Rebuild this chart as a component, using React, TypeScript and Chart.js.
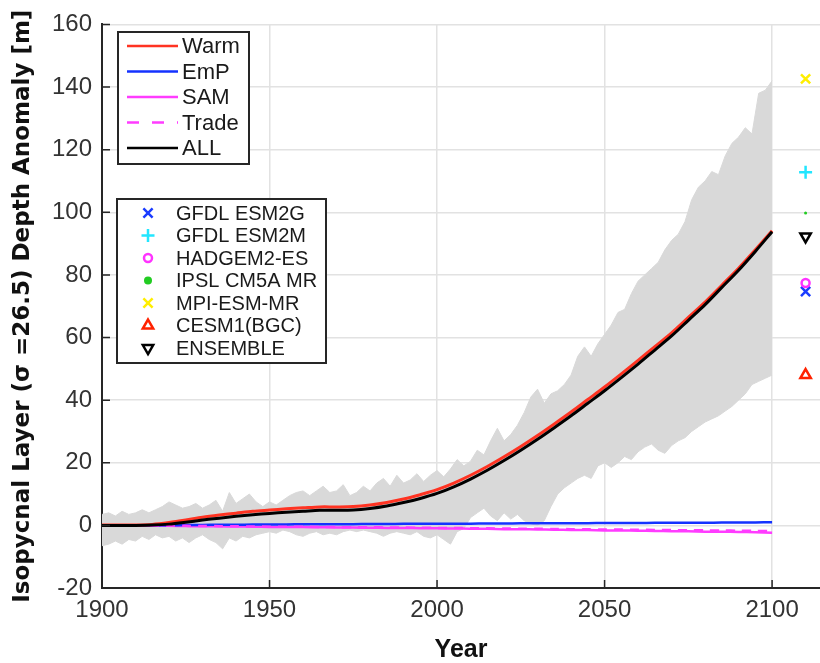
import React, { useEffect, useRef } from 'react';
import { Chart, registerables } from 'chart.js';

Chart.register(...registerables);

// ---------- data ----------
const lineYears = [1900, 1905, 1910, 1915, 1920, 1925, 1930, 1935, 1940, 1945, 1950, 1955, 1960, 1965, 1970, 1975, 1980, 1985, 1990, 1995, 2000, 2005, 2010, 2015, 2020, 2025, 2030, 2035, 2040, 2045, 2050, 2055, 2060, 2065, 2070, 2075, 2080, 2085, 2090, 2095, 2100];
const warm = [0.1, 0.1, 0.1, 0.3, 0.9, 1.7, 2.6, 3.3, 3.9, 4.5, 4.9, 5.3, 5.6, 5.9, 5.9, 6.0, 6.5, 7.3, 8.4, 9.8, 11.4, 13.5, 16.0, 18.8, 21.9, 25.2, 28.7, 32.4, 36.2, 40.2, 44.2, 48.4, 52.7, 57.1, 61.5, 66.4, 71.3, 76.7, 82.1, 88.0, 94.1];
const emp = [0, 0, 0, 0.05, 0.05, 0.1, 0.15, 0.2, 0.2, 0.25, 0.3, 0.3, 0.35, 0.35, 0.4, 0.4, 0.45, 0.45, 0.5, 0.5, 0.5, 0.55, 0.55, 0.6, 0.6, 0.65, 0.65, 0.7, 0.7, 0.7, 0.75, 0.75, 0.75, 0.8, 0.8, 0.85, 0.85, 0.9, 0.9, 0.95, 1.0];
const sam = [0, 0, -0.05, -0.1, -0.15, -0.2, -0.3, -0.3, -0.35, -0.4, -0.5, -0.5, -0.55, -0.6, -0.65, -0.7, -0.75, -0.8, -0.85, -0.9, -0.95, -1.0, -1.05, -1.1, -1.2, -1.25, -1.3, -1.4, -1.45, -1.5, -1.6, -1.65, -1.7, -1.8, -1.85, -1.9, -2.0, -2.05, -2.1, -2.2, -2.35];
const trade = [0, 0, 0, -0.05, -0.1, -0.15, -0.2, -0.25, -0.3, -0.35, -0.4, -0.4, -0.45, -0.5, -0.55, -0.6, -0.6, -0.65, -0.7, -0.75, -0.8, -0.85, -0.9, -0.95, -1.0, -1.05, -1.1, -1.15, -1.2, -1.25, -1.3, -1.35, -1.4, -1.45, -1.5, -1.55, -1.6, -1.65, -1.7, -1.75, -1.85];
const all = [0, 0, 0, 0.1, 0.4, 1.0, 1.7, 2.3, 2.9, 3.4, 3.8, 4.2, 4.5, 4.8, 4.8, 4.9, 5.4, 6.2, 7.3, 8.6, 10.2, 12.3, 14.8, 17.6, 20.7, 24.0, 27.5, 31.2, 35.0, 39.0, 43.0, 47.2, 51.5, 56.0, 60.5, 65.5, 70.5, 76.0, 81.5, 87.5, 93.8];

const bandYears = [1900, 1902, 1904, 1906, 1908, 1910, 1912, 1914, 1916, 1918, 1920, 1922, 1924, 1926, 1928, 1930, 1932, 1934, 1936, 1938, 1940, 1942, 1944, 1946, 1948, 1950, 1952, 1954, 1956, 1958, 1960, 1962, 1964, 1966, 1968, 1970, 1972, 1974, 1976, 1978, 1980, 1982, 1984, 1986, 1988, 1990, 1992, 1994, 1996, 1998, 2000, 2002, 2004, 2006, 2008, 2010, 2012, 2014, 2016, 2018, 2020, 2022, 2024, 2026, 2028, 2030, 2032, 2034, 2036, 2038, 2040, 2042, 2044, 2046, 2048, 2050, 2052, 2054, 2056, 2058, 2060, 2062, 2064, 2066, 2068, 2070, 2072, 2074, 2076, 2078, 2080, 2082, 2084, 2086, 2088, 2090, 2092, 2094, 2096, 2098, 2100];
const bandUpper = [3.5, 4, 3, 4.5, 3.5, 4, 5, 4, 5, 6,
  7.5, 6.5, 5.5, 6, 7, 5.5, 6.5, 8, 4.5, 10.5,
  7, 8.5, 10, 7.5, 6, 7.5, 6.5, 8, 9.5, 10.5,
  11, 9.5, 11, 12.5, 10.5, 11, 13, 9.5, 10.5, 12.5,
  11, 13.5, 15, 12.5, 16, 13.5, 14.5, 16.5, 14, 16,
  17.5, 15.5, 18, 21, 19, 20.5, 24, 22.5, 27, 31,
  27, 29, 32, 36, 41, 43.5, 39, 42, 43, 45,
  48, 54, 57, 54, 58, 61, 64, 68, 69, 74,
  78, 80, 82, 84, 88, 91, 93, 97, 104, 108,
  110, 113, 112, 118, 122, 124, 127, 125, 138, 139,
  142];
const bandLower = [-6.5, -6, -5, -6, -4.5, -5, -3.5, -4.5, -3, -4,
  -3.5, -5, -4, -5.5, -4, -3, -4.5, -5.5, -7.5, -4,
  -5, -3.5, -4, -3, -2.5, -2, -2.5, -1.5, -2, -3,
  -3.5, -2.5, -2, -3, -2.5, -3, -2, -1.5, -2, -1.5,
  -2, -2.5, -3.5, -2.5, -2, -2.5, -3, -2, -3.5, -4,
  -3, -4.5, -6, -2, -1, 2.5, 4, 5.5, 3, 1.5,
  4, 2, 3.5, 1.5, 0.5, 0, 1.5, 6, 10, 12,
  13.5, 15, 16, 15, 19, 20, 18.5, 20, 22, 21,
  23.5, 25, 26, 24, 23, 25.5, 27, 28, 30, 31.5,
  33, 34, 35, 36.5, 38, 40, 42, 45, 46, 47,
  48];

const modelNames = ['GFDL ESM2G', 'GFDL ESM2M', 'HADGEM2-ES', 'IPSL CM5A MR', 'MPI-ESM-MR', 'CESM1(BGC)', 'ENSEMBLE'];
const modelValues = [74.7, 112.8, 77.4, 99.8, 142.6, 48.0, 92.3];
const modelYear = 2110;

const xTicks = [1900, 1950, 2000, 2050, 2100];
const yTicks = [-20, 0, 20, 40, 60, 80, 100, 120, 140, 160];

// ---------- styles ----------
const lineSeries = [
  { label: 'Warm', data: warm, color: '#ff3322', dash: false },
  { label: 'EmP', data: emp, color: '#1432ff', dash: false },
  { label: 'SAM', data: sam, color: '#ff3cff', dash: false },
  { label: 'Trade', data: trade, color: '#ff3cff', dash: true },
  { label: 'ALL', data: all, color: '#000000', dash: false },
];
const modelStyles = [
  { shape: 'crossRot', color: '#1a3cff', r: 6.5, plotR: 6.5 },
  { shape: 'cross', color: '#22e6ff', r: 6.5, plotR: 6.5 },
  { shape: 'circle', color: '#ff33ff', r: 4, plotR: 4 },
  { shape: 'dot', color: '#22cc22', r: 4, plotR: 1.5 },
  { shape: 'crossRot', color: '#ffee00', r: 6.5, plotR: 6.5 },
  { shape: 'triangle', color: '#ff2200', r: 6, plotR: 6 },
  { shape: 'triangleDown', color: '#000000', r: 6, plotR: 6 },
];

function drawMarker(ctx: CanvasRenderingContext2D, shape: string, color: string, x: number, y: number, r: number) {
  ctx.save();
  ctx.strokeStyle = color;
  ctx.fillStyle = color;
  ctx.lineWidth = 2.5;
  ctx.setLineDash([]);
  ctx.beginPath();
  if (shape === 'crossRot') {
    const d = r * Math.SQRT1_2;
    ctx.moveTo(x - d, y - d); ctx.lineTo(x + d, y + d);
    ctx.moveTo(x - d, y + d); ctx.lineTo(x + d, y - d);
    ctx.stroke();
  } else if (shape === 'cross') {
    ctx.moveTo(x - r, y); ctx.lineTo(x + r, y);
    ctx.moveTo(x, y - r); ctx.lineTo(x, y + r);
    ctx.stroke();
  } else if (shape === 'circle') {
    ctx.arc(x, y, r, 0, Math.PI * 2);
    ctx.stroke();
  } else if (shape === 'dot') {
    ctx.arc(x, y, r, 0, Math.PI * 2);
    ctx.fill();
  } else if (shape === 'triangle' || shape === 'triangleDown') {
    const s = shape === 'triangle' ? 1 : -1;
    ctx.moveTo(x, y - s * r);
    ctx.lineTo(x + r * 0.866, y + s * r * 0.5);
    ctx.lineTo(x - r * 0.866, y + s * r * 0.5);
    ctx.closePath();
    ctx.stroke();
  }
  ctx.restore();
}

const inwardTicks = {
  id: 'inwardTicks',
  afterDatasetsDraw(chart: any) {
    const { ctx, chartArea, scales } = chart;
    ctx.save();
    ctx.strokeStyle = '#262626';
    ctx.lineWidth = 1.5;
    ctx.beginPath();
    yTicks.forEach((v) => {
      const y = scales.y.getPixelForValue(v);
      ctx.moveTo(chartArea.left, y); ctx.lineTo(chartArea.left + 8, y);
    });
    xTicks.forEach((v) => {
      const x = scales.x.getPixelForValue(v);
      ctx.moveTo(x, chartArea.bottom); ctx.lineTo(x, chartArea.bottom - 8);
    });
    ctx.stroke();
    ctx.restore();
  },
};

const modelMarkers = {
  id: 'modelMarkers',
  afterDatasetsDraw(chart: any) {
    const { ctx, scales } = chart;
    modelValues.forEach((v, i) => {
      const st = modelStyles[i];
      drawMarker(ctx, st.shape, st.color, scales.x.getPixelForValue(modelYear), scales.y.getPixelForValue(v), st.plotR);
    });
  },
};

const legends = {
  id: 'legends',
  afterDraw(chart: any) {
    const { ctx, chartArea } = chart;
    const L = chartArea.left;
    ctx.save();
    // legend 1
    const b1x = L + 16, b1y = 32, b1w = 131, b1h = 132;
    ctx.fillStyle = '#ffffff';
    ctx.fillRect(b1x, b1y, b1w, b1h);
    ctx.strokeStyle = '#262626';
    ctx.lineWidth = 2;
    ctx.strokeRect(b1x, b1y, b1w, b1h);
    ctx.font = '22px "Liberation Sans", Arial, sans-serif';
    ctx.textBaseline = 'middle';
    lineSeries.forEach((s, i) => {
      const y = 46 + i * 25.5;
      ctx.beginPath();
      ctx.setLineDash(s.dash ? [12, 13] : []);
      ctx.strokeStyle = s.color;
      ctx.lineWidth = 2.5;
      ctx.moveTo(L + 25, y); ctx.lineTo(L + 76, y);
      ctx.stroke();
      ctx.setLineDash([]);
      ctx.fillStyle = '#1a1a1a';
      ctx.fillText(s.label, L + 80, y + 1);
    });
    // legend 2
    const b2x = L + 15, b2y = 199, b2w = 209, b2h = 164;
    ctx.fillStyle = '#ffffff';
    ctx.fillRect(b2x, b2y, b2w, b2h);
    ctx.strokeStyle = '#262626';
    ctx.lineWidth = 2;
    ctx.strokeRect(b2x, b2y, b2w, b2h);
    ctx.font = '20px "Liberation Sans", Arial, sans-serif';
    modelNames.forEach((n, i) => {
      const y = 213 + i * 22.5;
      const st = modelStyles[i];
      drawMarker(ctx, st.shape, st.color, L + 46, y, st.r);
      ctx.fillStyle = '#1a1a1a';
      ctx.fillText(n, L + 74, y + 1);
    });
    ctx.restore();
  },
};

export default function App() {
  const ref = useRef<HTMLCanvasElement>(null);
  useEffect(() => {
    const datasets: any[] = [
      {
        label: 'range upper',
        data: bandYears.map((x, i) => ({ x, y: bandUpper[i] })),
        fill: '+1',
        backgroundColor: '#d9d9d9',
        borderColor: '#d9d9d9',
        borderWidth: 1,
        pointRadius: 0,
        tension: 0,
        order: 20,
      },
      {
        label: 'range lower',
        data: bandYears.map((x, i) => ({ x, y: bandLower[i] })),
        fill: false,
        borderColor: '#d9d9d9',
        borderWidth: 1,
        pointRadius: 0,
        tension: 0,
        order: 19,
      },
    ];
    const orders = [5, 8, 9, 7, 4];
    lineSeries.forEach((s, i) => {
      datasets.push({
        label: s.label,
        data: lineYears.map((x, j) => ({ x, y: s.data[j] })),
        borderColor: s.color,
        borderWidth: s.label === 'ALL' || s.label === 'Warm' ? 3 : 2.5,
        borderDash: s.dash ? [9, 7] : [],
        pointRadius: 0,
        fill: false,
        tension: 0.3,
        order: orders[i],
      });
    });

    const chart = new Chart(ref.current as HTMLCanvasElement, {
      type: 'line',
      data: { datasets },
      plugins: [inwardTicks, modelMarkers, legends],
      options: {
        animation: false,
        responsive: false,
        devicePixelRatio: 1,
        layout: { padding: { top: 15.5, right: 0, bottom: 0, left: 0 } },
        plugins: {
          legend: { display: false },
          tooltip: { enabled: false },
        },
        scales: {
          x: {
            type: 'linear',
            min: 1900,
            max: 2114.3,
            afterBuildTicks: (s: any) => { s.ticks = xTicks.map((v) => ({ value: v })); },
            afterFit: (s: any) => { s.height = 75; },
            ticks: {
              font: { family: '"Liberation Sans", Arial, sans-serif', size: 24 },
              color: '#333333',
              padding: 8,
              maxRotation: 0,
              autoSkip: false,
              callback: (v: any) => String(v),
            },
            grid: { color: '#e2e2e2', lineWidth: 1.5, drawTicks: false },
            border: { color: '#262626', width: 2 },
            title: {
              display: true,
              text: 'Year',
              font: { family: '"Liberation Sans", Arial, sans-serif', size: 25, weight: 'bold', lineHeight: 1 },
              color: '#111111',
              padding: { top: 0, bottom: 0 },
            },
          },
          y: {
            type: 'linear',
            min: -20,
            max: 160,
            afterBuildTicks: (s: any) => { s.ticks = yTicks.map((v) => ({ value: v })); },
            afterFit: (s: any) => { s.width = 102; },
            ticks: {
              font: { family: '"Liberation Sans", Arial, sans-serif', size: 24 },
              color: '#333333',
              padding: 10,
              autoSkip: false,
              callback: (v: any) => String(v),
            },
            grid: { color: '#e2e2e2', lineWidth: 1.5, drawTicks: false },
            border: { color: '#262626', width: 2 },
            title: {
              display: true,
              text: 'Isopycnal Layer (σ =26.5) Depth Anomaly [m]',
              font: { family: '"DejaVu Sans", sans-serif', size: 23, weight: 'bold' },
              color: '#111111',
              padding: { top: 9, bottom: 0 },
            },
          },
        },
      } as any,
    });
    return () => chart.destroy();
  }, []);

  return (
    <div style={{ position: 'absolute', left: 0, top: 0, width: 820, height: 663, background: '#ffffff' }}>
      <canvas ref={ref} width={820} height={663} style={{ width: 820, height: 663, display: 'block' }} />
    </div>
  );
}
